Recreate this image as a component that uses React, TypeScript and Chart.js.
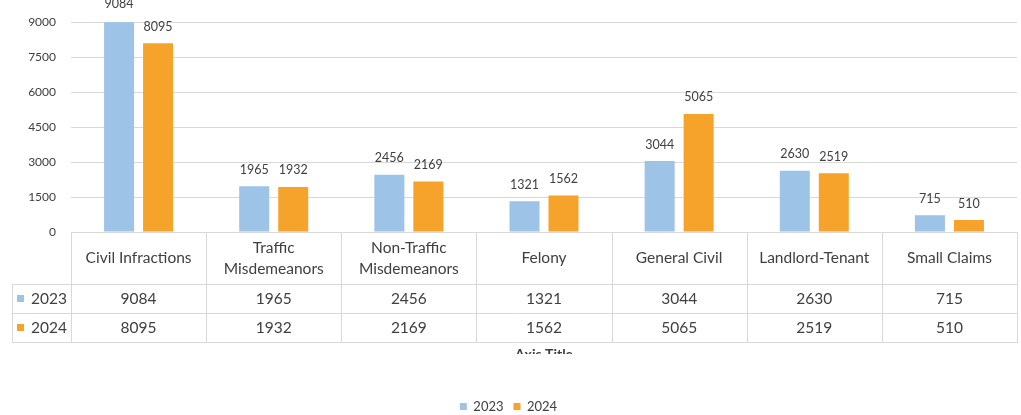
import React, { useEffect, useRef } from "react";
import { Chart, registerables } from "chart.js";

Chart.register(...registerables);

const categories: string[][] = [
  ["Civil Infractions"],
  ["Traffic", "Misdemeanors"],
  ["Non-Traffic", "Misdemeanors"],
  ["Felony"],
  ["General Civil"],
  ["Landlord-Tenant"],
  ["Small Claims"],
];
const seriesNames = ["2023", "2024"];
const values2023 = [9084, 1965, 2456, 1321, 3044, 2630, 715];
const values2024 = [8095, 1932, 2169, 1562, 5065, 2519, 510];
const colors = ["#9dc3e6", "#f5a32a"];
const yMax = 9000;
const yStep = 1500;

const FONT = "Lato, 'Open Sans', sans-serif";
const TEXT = "#404040";
const GRID = "#d9d9d9";
const PLOT_BOTTOM = 232;

const dataLabelPlugin = {
  id: "dataLabels",
  afterDatasetsDraw(chart: any) {
    const { ctx } = chart;
    const y = chart.scales.y;
    ctx.save();
    ctx.font = `12.5px ${FONT}`;
    ctx.fillStyle = TEXT;
    ctx.textAlign = "center";
    ctx.textBaseline = "middle";
    chart.data.datasets.forEach((ds: any, di: number) => {
      const meta = chart.getDatasetMeta(di);
      meta.data.forEach((el: any, i: number) => {
        const v = ds.data[i];
        const py = y.getPixelForValue(v);
        ctx.fillText(String(v), el.x, py - 16.5);
      });
    });
    ctx.restore();
  },
};

const tablePlugin = {
  id: "dataTable",
  afterDraw(chart: any) {
    const { ctx, chartArea } = chart;
    const left = chartArea.left;
    const right = chartArea.right;
    const n = categories.length;
    const colW = (right - left) / n;
    const top = Math.round(chartArea.bottom);
    const hb = top + 52;
    const r1 = hb + 29;
    const r2 = r1 + 29;
    const tl = 12;
    const L = (x1: number, y1: number, x2: number, y2: number) => {
      ctx.beginPath();
      ctx.moveTo(x1, y1);
      ctx.lineTo(x2, y2);
      ctx.stroke();
    };
    ctx.save();
    ctx.strokeStyle = GRID;
    ctx.lineWidth = 1;
    L(left, top + 0.5, right, top + 0.5);
    L(tl, hb + 0.5, right, hb + 0.5);
    L(tl, r1 + 0.5, right, r1 + 0.5);
    L(tl, r2 + 0.5, right, r2 + 0.5);
    L(tl + 0.5, hb, tl + 0.5, r2 + 1);
    for (let i = 0; i <= n; i++) {
      const x = Math.round(left + i * colW) + 0.5;
      L(x, top, x, r2 + 1);
    }
    ctx.fillStyle = TEXT;
    ctx.font = `15.5px ${FONT}`;
    ctx.textAlign = "center";
    ctx.textBaseline = "middle";
    const xs = chart.scales.x;
    categories.forEach((lines, i) => {
      const cx = xs.getPixelForValue(i);
      const cy = (top + hb) / 2;
      if (lines.length === 1) {
        ctx.fillText(lines[0], cx, cy);
      } else {
        ctx.fillText(lines[0], cx, cy - 10);
        ctx.fillText(lines[1], cx, cy + 11);
      }
    });
    const rows = [values2023, values2024];
    const rowMid = [hb + 14.5, r1 + 15];
    rows.forEach((vals, ri) => {
      const cy = rowMid[ri];
      ctx.textAlign = "center";
      vals.forEach((v, i) => {
        ctx.fillText(String(v), xs.getPixelForValue(i), cy);
      });
      ctx.fillStyle = colors[ri];
      ctx.fillRect(17, Math.round(cy) - 4, 7, 7);
      ctx.fillStyle = TEXT;
      ctx.textAlign = "left";
      ctx.fillText(seriesNames[ri], 31, cy);
    });
    // axis title, cut off by the chart frame
    ctx.save();
    ctx.beginPath();
    ctx.rect(0, r2 + 2, chart.width, 10);
    ctx.clip();
    ctx.textAlign = "center";
    ctx.textBaseline = "top";
    ctx.font = `bold 14px ${FONT}`;
    ctx.fillStyle = "#404040";
    ctx.fillText("Axis Title", (left + right) / 2, r2 + 5);
    ctx.restore();
    ctx.restore();
  },
};

export default function App() {
  const ref = useRef<HTMLCanvasElement>(null);
  useEffect(() => {
    document.body.style.margin = "0";
    const chart = new Chart(ref.current!, {
      type: "bar",
      data: {
        labels: categories.map((c) => c.join(" ")),
        datasets: [
          {
            label: seriesNames[0],
            data: values2023,
            backgroundColor: colors[0],
            categoryPercentage: 0.577,
            barPercentage: 0.77,
          },
          {
            label: seriesNames[1],
            data: values2024,
            backgroundColor: colors[1],
            categoryPercentage: 0.577,
            barPercentage: 0.77,
          },
        ],
      },
      options: {
        animation: false,
        responsive: true,
        maintainAspectRatio: false,
        layout: { padding: { top: 18, right: 4, bottom: -8, left: 0 } },
        plugins: {
          tooltip: { enabled: false },
          legend: {
            position: "bottom",
            labels: {
              boxWidth: 7,
              boxHeight: 7,
              padding: 10,
              color: TEXT,
              font: { family: FONT, size: 13 },
            },
          },
        },
        scales: {
          x: {
            display: true,
            ticks: { display: false },
            grid: { display: false, drawTicks: false },
            border: { display: false },
            afterFit: (s: any) => {
              const lh = s.chart.legend ? s.chart.legend.height : 0;
              s.height = Math.max(0, s.chart.height + 8 - PLOT_BOTTOM - lh);
            },
          },
          y: {
            min: 0,
            max: yMax,
            afterFit: (s: any) => {
              s.width = 71;
            },
            ticks: {
              stepSize: yStep,
              padding: 15,
              color: TEXT,
              font: { family: FONT, size: 12 },
              callback: (v: any) => String(v),
            },
            grid: { color: GRID, drawTicks: false },
            border: { display: false },
          },
        },
      },
      plugins: [dataLabelPlugin, tablePlugin],
    });
    return () => chart.destroy();
  }, []);
  return (
    <div style={{ width: 1021, height: 415, position: "relative" }}>
      <canvas ref={ref} />
    </div>
  );
}
